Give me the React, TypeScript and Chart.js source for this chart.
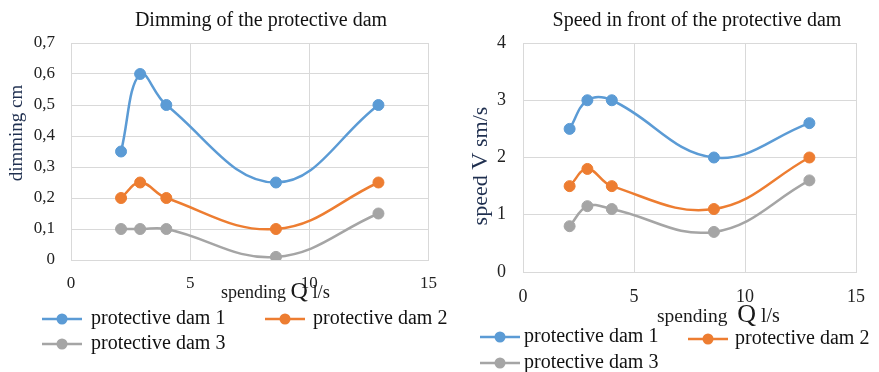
import React, { useEffect, useRef } from "react";
import { Chart, registerables } from "chart.js";

Chart.register(...registerables);

// ---------- data ----------
const flowQ = [2.1, 2.9, 4.0, 8.6, 12.9];
const dimDam1 = [0.35, 0.6, 0.5, 0.25, 0.5];
const dimDam2 = [0.2, 0.25, 0.2, 0.1, 0.25];
const dimDam3 = [0.1, 0.1, 0.1, 0.01, 0.15];
const speedDam1 = [2.5, 3.0, 3.0, 2.0, 2.6];
const speedDam2 = [1.5, 1.8, 1.5, 1.1, 2.0];
const speedDam3 = [0.8, 1.15, 1.1, 0.7, 1.6];
const seriesNames = ["protective dam 1", "protective dam 2", "protective dam 3"];
const seriesColors = ["#5B9BD5", "#ED7D31", "#A5A5A5"];
const xTickLabels = ["0", "5", "10", "15"];
const dimTickLabels = ["0", "0,1", "0,2", "0,3", "0,4", "0,5", "0,6", "0,7"];
const speedTickLabels = ["0", "1", "2", "3", "4"];

const FONT = "'Liberation Serif', 'Times New Roman', serif";
const GRID = "#d9d9d9";

type Run = { text: string; size: number };
type LegendPos = { lineX: number; y: number; textX: number };
type Deco = {
  title: string;
  titleX: number;
  titleY: number;
  titleSize: number;
  xRuns: Run[];
  xTitleX: number;
  xTitleY: number;
  yRuns: Run[];
  yTitleX: number;
  yTitleY: number;
  legendSize: number;
  legend: LegendPos[];
};

function measureRuns(ctx: CanvasRenderingContext2D, runs: Run[]) {
  let w = 0;
  for (const r of runs) {
    ctx.font = `${r.size}px ${FONT}`;
    w += ctx.measureText(r.text).width;
  }
  return w;
}

function drawRuns(ctx: CanvasRenderingContext2D, runs: Run[], x: number, y: number) {
  let cx = x;
  for (const r of runs) {
    ctx.font = `${r.size}px ${FONT}`;
    ctx.fillText(r.text, cx, y);
    cx += ctx.measureText(r.text).width;
  }
}

function decoPlugin(deco: Deco) {
  return {
    id: "deco",
    afterDraw(chart: any) {
      const ctx: CanvasRenderingContext2D = chart.ctx;
      ctx.save();
      ctx.textBaseline = "alphabetic";
      // title
      ctx.fillStyle = "#111111";
      ctx.textAlign = "center";
      ctx.font = `${deco.titleSize}px ${FONT}`;
      ctx.fillText(deco.title, deco.titleX, deco.titleY);
      ctx.textAlign = "left";
      // x axis title
      ctx.fillStyle = "#1a1a1a";
      drawRuns(ctx, deco.xRuns, deco.xTitleX, deco.xTitleY);
      // y axis title
      ctx.save();
      ctx.fillStyle = "#1f2f4f";
      ctx.translate(deco.yTitleX, deco.yTitleY);
      ctx.rotate(-Math.PI / 2);
      const w = measureRuns(ctx, deco.yRuns);
      drawRuns(ctx, deco.yRuns, -w / 2, 0);
      ctx.restore();
      // legend
      chart.data.datasets.forEach((ds: any, i: number) => {
        const p = deco.legend[i];
        if (!p) return;
        ctx.strokeStyle = ds.borderColor;
        ctx.lineWidth = 2.5;
        ctx.beginPath();
        ctx.moveTo(p.lineX, p.y);
        ctx.lineTo(p.lineX + 40, p.y);
        ctx.stroke();
        ctx.fillStyle = ds.backgroundColor;
        ctx.beginPath();
        ctx.arc(p.lineX + 20, p.y, 5.5, 0, Math.PI * 2);
        ctx.fill();
        ctx.fillStyle = "#111111";
        ctx.font = `${deco.legendSize}px ${FONT}`;
        ctx.fillText(ds.label, p.textX, p.y + 5);
      });
      ctx.restore();
    },
  };
}

type ChartSpec = {
  width: number;
  height: number;
  series: number[][];
  yMax: number;
  yStep: number;
  yLabels: string[];
  tickSize: number;
  yAxisWidth: number;
  yTickPad: number;
  xTickPad: number;
  padRight: number;
  padTop: number;
  plotBottom: number;
  deco: Deco;
};

function makeConfig(spec: ChartSpec): any {
  const xAxisHeight = 30;
  return {
    type: "scatter",
    data: {
      datasets: spec.series.map((vals, i) => ({
        label: seriesNames[i],
        data: flowQ.map((x, j) => ({ x, y: vals[j] })),
        showLine: true,
        borderColor: seriesColors[i],
        backgroundColor: seriesColors[i],
        borderWidth: 2.5,
        pointRadius: 5.5,
        pointHoverRadius: 5.5,
        pointBorderWidth: 1,
        pointBorderColor: seriesColors[i],
        tension: 0.4,
      })),
    },
    options: {
      responsive: false,
      animation: false,
      events: [],
      layout: {
        padding: {
          left: 0,
          right: spec.padRight,
          top: spec.padTop,
          bottom: spec.height - spec.plotBottom - xAxisHeight,
        },
      },
      plugins: {
        legend: { display: false },
        title: { display: false },
        tooltip: { enabled: false },
      },
      scales: {
        x: {
          type: "linear",
          min: 0,
          max: 15,
          ticks: {
            stepSize: 5,
            padding: spec.xTickPad,
            color: "#222222",
            font: { family: FONT, size: spec.tickSize },
            maxRotation: 0,
            callback: (_v: any, i: number) => xTickLabels[i],
          },
          grid: { color: GRID, drawTicks: false },
          border: { color: GRID },
          afterFit: (s: any) => {
            s.height = xAxisHeight;
          },
        },
        y: {
          type: "linear",
          min: 0,
          max: spec.yMax,
          ticks: {
            stepSize: spec.yStep,
            padding: spec.yTickPad,
            color: "#222222",
            font: { family: FONT, size: spec.tickSize },
            callback: (_v: any, i: number) => spec.yLabels[i],
          },
          grid: { color: GRID, drawTicks: false },
          border: { color: GRID },
          afterFit: (s: any) => {
            s.width = spec.yAxisWidth;
          },
        },
      },
    },
    plugins: [decoPlugin(spec.deco)],
  };
}

const leftSpec: ChartSpec = {
  width: 450,
  height: 372,
  series: [dimDam1, dimDam2, dimDam3],
  yMax: 0.7,
  yStep: 0.1,
  yLabels: dimTickLabels,
  tickSize: 17,
  yAxisWidth: 71,
  yTickPad: 16,
  xTickPad: 13,
  padRight: 11,
  padTop: 43,
  plotBottom: 260,
  deco: {
    title: "Dimming of the protective dam",
    titleX: 261,
    titleY: 26,
    titleSize: 20,
    xRuns: [
      { text: "spending ", size: 18 },
      { text: "Q", size: 24 },
      { text: " l/s", size: 18.5 },
    ],
    xTitleX: 221,
    xTitleY: 298,
    yRuns: [{ text: "dimming cm", size: 19 }],
    yTitleX: 22,
    yTitleY: 133,
    legendSize: 20,
    legend: [
      { lineX: 42, y: 319, textX: 91 },
      { lineX: 265, y: 319, textX: 313 },
      { lineX: 42, y: 344, textX: 91 },
    ],
  },
};

const rightSpec: ChartSpec = {
  width: 429,
  height: 372,
  series: [speedDam1, speedDam2, speedDam3],
  yMax: 4,
  yStep: 1,
  yLabels: speedTickLabels,
  tickSize: 18,
  yAxisWidth: 73,
  yTickPad: 17,
  xTickPad: 14,
  padRight: 10,
  padTop: 43,
  plotBottom: 272,
  deco: {
    title: "Speed in front of the protective dam",
    titleX: 247,
    titleY: 26,
    titleSize: 20,
    xRuns: [
      { text: "spending  ", size: 19.5 },
      { text: "Q", size: 26 },
      { text: " l/s", size: 20 },
    ],
    xTitleX: 207,
    xTitleY: 322,
    yRuns: [
      { text: "speed ", size: 22 },
      { text: "V", size: 24 },
      { text: " sm/s", size: 22 },
    ],
    yTitleX: 37,
    yTitleY: 166,
    legendSize: 20,
    legend: [
      { lineX: 30, y: 337, textX: 74 },
      { lineX: 238, y: 339, textX: 285 },
      { lineX: 30, y: 363, textX: 74 },
    ],
  },
};

function ChartCanvas({ spec }: { spec: ChartSpec }) {
  const ref = useRef<HTMLCanvasElement | null>(null);
  useEffect(() => {
    if (!ref.current) return;
    const chart = new Chart(ref.current, makeConfig(spec));
    return () => chart.destroy();
  }, [spec]);
  return (
    <canvas
      ref={ref}
      width={spec.width}
      height={spec.height}
      style={{ display: "block", width: spec.width, height: spec.height }}
    />
  );
}

export default function App() {
  return (
    <div
      style={{
        position: "fixed",
        left: 0,
        top: 0,
        width: 879,
        height: 372,
        display: "flex",
        background: "#ffffff",
        overflow: "hidden",
      }}
    >
      <ChartCanvas spec={leftSpec} />
      <ChartCanvas spec={rightSpec} />
    </div>
  );
}
